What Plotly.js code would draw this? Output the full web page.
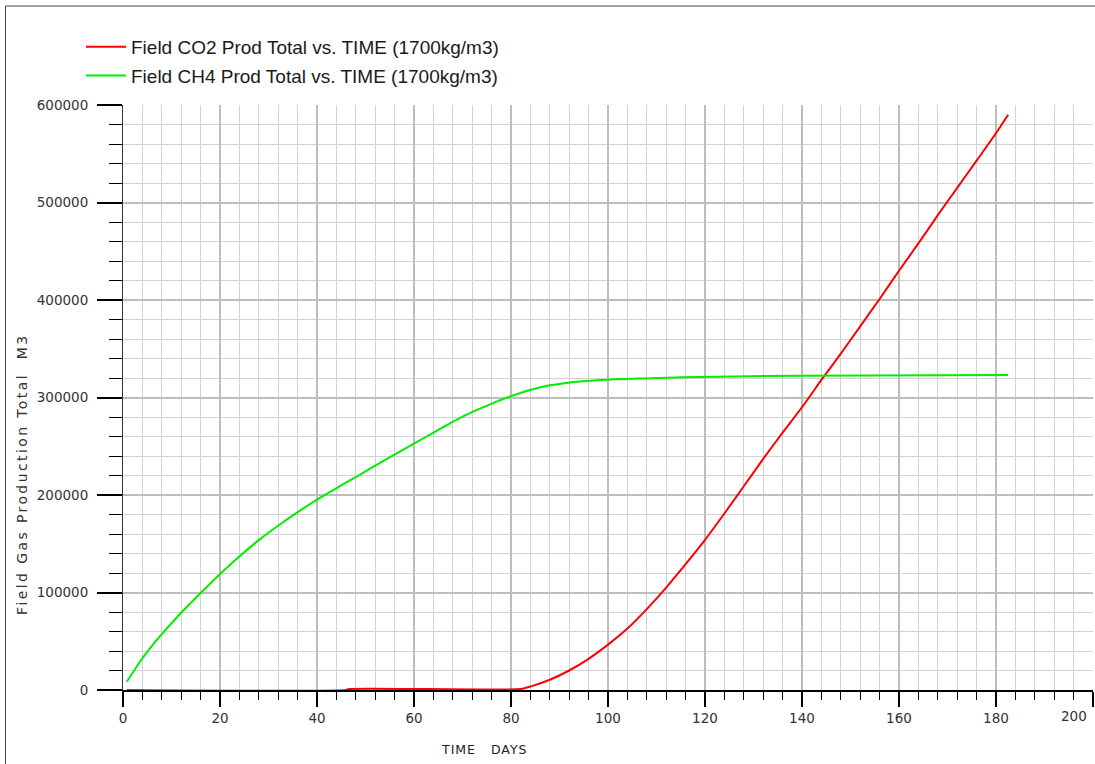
<!DOCTYPE html>
<html>
<head>
<meta charset="utf-8">
<script src="https://cdn.plot.ly/plotly-3.0.1.min.js"></script>
<style>
  html, body { margin: 0; padding: 0; background: #fff; }
  #chart { width: 1095px; height: 764px; }
</style>
</head>
<body>
<div id="chart"></div>
<script>
// ---- data ----
const co2Days = [0.8, 46, 46.5, 82, 84, 88, 92, 96, 100, 104, 108, 112, 116, 120, 124, 128, 132, 136, 140, 144, 148, 152, 156, 160, 164, 168, 172, 176, 180, 182.5];
const co2Total = [0, 0, 1000, 1000, 3500, 10500, 20000, 32000, 46500, 63000, 83000, 105000, 129000, 154000, 181000, 209000, 237000, 264000, 290000, 318000, 345000, 373000, 401000, 430000, 458000, 487000, 515000, 543000, 571000, 590000];

const ch4Days = [0.8, 3.5, 5.6, 7.6, 11.75, 15.9, 19.7, 24.1, 28.2, 32.4, 36.5, 40.6, 44.7, 48.9, 53, 57.1, 62.6, 67.4, 71.5, 75.7, 79.8, 83.9, 88, 92.2, 96.3, 100.4, 108.7, 115.5, 139.6, 182.5];
const ch4Total = [8500, 29000, 43000, 55000, 78000, 99000, 117500, 137500, 154500, 170000, 184000, 197000, 209000, 221000, 233000, 244500, 260000, 273500, 284000, 293000, 301000, 307700, 312500, 315500, 317200, 318500, 319700, 320700, 322400, 323000];

const xTickVals = [0, 20, 40, 60, 80, 100, 120, 140, 160, 180, 200];
const xTickText = ["0", "20", "40", "60", "80", "100", "120", "140", "160", "180", ""];
const lastXTick = "200";

const seriesNames = [
  "Field CO2 Prod Total vs. TIME (1700kg/m3)",
  "Field CH4 Prod Total vs. TIME (1700kg/m3)"
];
const xTitle = "TIME   DAYS";
const yTitle = "Field Gas Production Total  M3";

// ---- styling ----
const tickFont = { family: "DejaVu Sans", size: 13.5, color: "#333333" };

const traces = [
  { x: co2Days, y: co2Total, name: seriesNames[0], type: "scatter", mode: "lines",
    line: { color: "#ff0000", width: 2, shape: "spline", smoothing: 0.6 }, legendgroup: "a" },
  { x: ch4Days, y: ch4Total, name: seriesNames[1], type: "scatter", mode: "lines",
    line: { color: "#00ee00", width: 2, shape: "spline", smoothing: 0.8 }, legendgroup: "b" }
];

const px2paperX = p => (p - 123) / 970;
const px2paperY = p => (690 - p) / 585;

const layout = {
  width: 1095, height: 764,
  margin: { l: 123, r: 2, t: 105, b: 74, pad: 0, autoexpand: false },
  paper_bgcolor: "#ffffff", plot_bgcolor: "#ffffff",
  showlegend: true,
  legend: {
    xref: "paper", yref: "paper",
    x: px2paperX(81), y: px2paperY(28), xanchor: "left", yanchor: "top",
    bgcolor: "rgba(0,0,0,0)", borderwidth: 0,
    font: { family: "Liberation Sans, Arial", size: 19, color: "#1a1a1a" },
    traceorder: "grouped", tracegroupgap: 1, itemwidth: 40
  },
  xaxis: {
    range: [0, 200], tickmode: "array", tickvals: xTickVals, ticktext: xTickText,
    ticks: "outside", ticklen: 15, tickwidth: 2, tickcolor: "#000",
    showgrid: true, gridcolor: "#bdbdbd", gridwidth: 2,
    zeroline: false, showline: true, linecolor: "#000", linewidth: 2,
    tickfont: tickFont, automargin: false, fixedrange: true, ticklabeloverflow: "allow",
    layer: "below traces",
    minor: { tickmode: "linear", dtick: 4, tick0: 0, ticks: "outside", ticklen: 8, tickwidth: 1, tickcolor: "#000",
             showgrid: true, gridcolor: "#d2d2d2", gridwidth: 1 }
  },
  yaxis: {
    range: [0, 600000], dtick: 100000, tick0: 0, tickformat: "d",
    ticks: "outside", ticklen: 25, tickwidth: 2, tickcolor: "#000",
    showgrid: true, gridcolor: "#bdbdbd", gridwidth: 2,
    zeroline: false, showline: true, linecolor: "#333", linewidth: 1,
    tickfont: tickFont, automargin: false, fixedrange: true, ticklabelstandoff: 6,
    ticklabeloverflow: "allow", layer: "below traces",
    minor: { tickmode: "linear", dtick: 20000, tick0: 0, ticks: "outside", ticklen: 13, tickwidth: 1, tickcolor: "#000",
             showgrid: true, gridcolor: "#d2d2d2", gridwidth: 1 }
  },
  annotations: [
    { text: '<span style="letter-spacing:2.4px">' + yTitle + '</span>',
      xref: "paper", yref: "paper", x: px2paperX(22), y: px2paperY(475),
      xanchor: "center", yanchor: "middle", textangle: -90, showarrow: false,
      font: { family: "DejaVu Sans", size: 14, color: "#333333" } },
    { text: '<span style="letter-spacing:1px">' + xTitle + '</span>',
      xref: "paper", yref: "paper", x: px2paperX(484), y: px2paperY(749),
      xanchor: "center", yanchor: "middle", showarrow: false,
      font: { family: "DejaVu Sans", size: 12.5, color: "#222222" } },
    { text: lastXTick, xref: "x", yref: "paper", x: 200, y: 0,
      xanchor: "right", yanchor: "top", xshift: -4, yshift: -16, showarrow: false,
      font: tickFont }
  ],
  shapes: [
    { type: "line", xref: "paper", yref: "paper",
      x0: px2paperX(5.5), x1: px2paperX(1095), y0: px2paperY(6), y1: px2paperY(6),
      line: { color: "#444", width: 1 } },
    { type: "line", xref: "paper", yref: "paper",
      x0: px2paperX(5.5), x1: px2paperX(5.5), y0: px2paperY(6), y1: px2paperY(764),
      line: { color: "#444", width: 1 } }
  ]
};

Plotly.newPlot("chart", traces, layout, { displayModeBar: false, staticPlot: true });
</script>
</body>
</html>
